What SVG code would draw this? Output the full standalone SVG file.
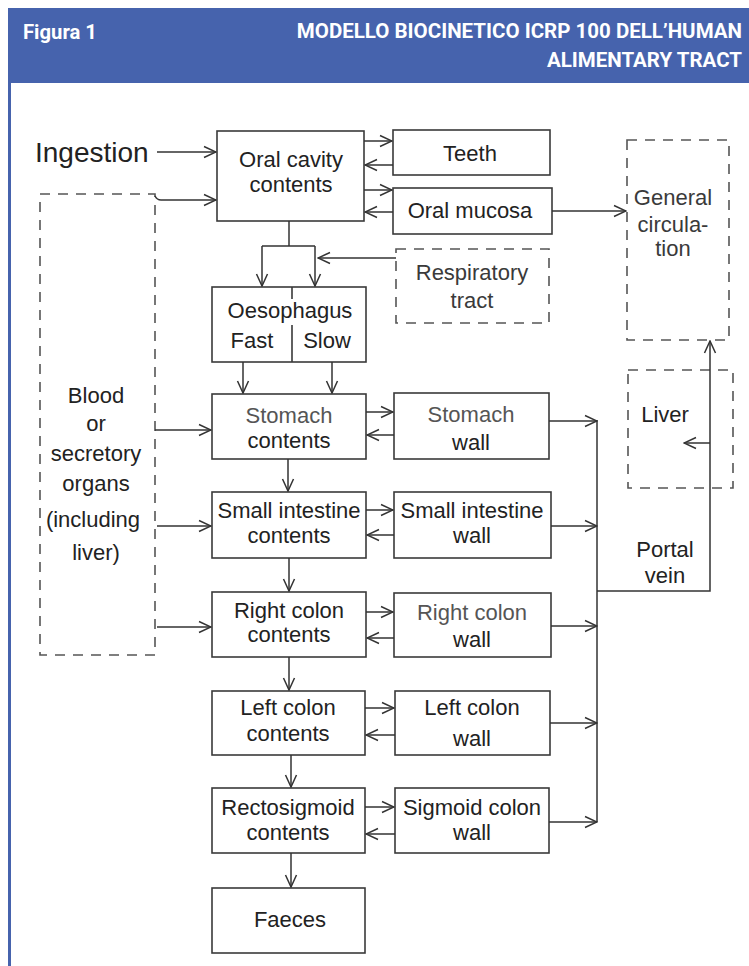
<svg xmlns="http://www.w3.org/2000/svg" width="749" height="966" viewBox="0 0 749 966">
<style>
.bg{fill:#ffffff}
.band{fill:#4663ad}
.hdr{fill:#ffffff;font-family:"Liberation Sans Narrow","Roboto","Open Sans",sans-serif;font-weight:bold}
.box{fill:none;stroke:#3a3a3a;stroke-width:1.6}
.dbox{fill:none;stroke:#555;stroke-width:1.6;stroke-dasharray:10 8}
.t{font-family:"Liberation Sans",Arial,sans-serif;font-size:22px;fill:#222;text-anchor:middle}
.lt{fill:#555}
.mt{fill:#3a3a3a}
.c path{fill:none;stroke:#333;stroke-width:1.5}
</style>
<defs>
<marker id="ah" viewBox="0 0 14 14" markerWidth="14" markerHeight="14" refX="13" refY="7" orient="auto" markerUnits="userSpaceOnUse">
<path d="M1,1.5 L13,7 L1,12.5" fill="none" stroke="#333" stroke-width="1.5"/>
</marker>
</defs>
<rect class="bg" x="0" y="0" width="749" height="966"/>
<g id="header">
<rect class="band" x="8" y="8" width="741" height="75"/>
<rect class="band" x="8" y="83" width="3" height="883"/>
<text class="hdr" x="23" y="39" font-size="21" textLength="74" lengthAdjust="spacingAndGlyphs">Figura 1</text>
<text class="hdr" x="742" y="38" font-size="20.5" text-anchor="end">MODELLO BIOCINETICO ICRP 100 DELL’HUMAN</text>
<text class="hdr" x="742" y="67" font-size="20.5" text-anchor="end">ALIMENTARY TRACT</text>
</g>
<g id="ingestion"><text class="t" x="35" y="162" style="font-size:28px;text-anchor:start">Ingestion</text></g>
<g id="oral-cavity"><rect class="box" x="217" y="131" width="147" height="90"/><text class="t" x="291" y="167">Oral cavity</text><text class="t" x="291" y="192">contents</text></g>
<g id="teeth"><rect class="box" x="393" y="130" width="157" height="45"/><text class="t" x="470" y="161">Teeth</text></g>
<g id="oral-mucosa"><rect class="box" x="393" y="188" width="159" height="46"/><text class="t" x="470" y="218">Oral mucosa</text></g>
<g id="general-circulation"><rect class="dbox" x="627" y="140" width="102" height="200"/><text class="t mt" x="673" y="205">General</text><text class="t mt" x="673" y="232">circula-</text><text class="t mt" x="673" y="256">tion</text></g>
<g id="respiratory-tract"><rect class="dbox" x="396" y="249" width="153" height="74"/><text class="t mt" x="472" y="280">Respiratory</text><text class="t mt" x="472" y="308">tract</text></g>
<g id="oesophagus"><rect class="box" x="212" y="287" width="154" height="75"/><path d="M292,287 V299 M292,325 V362" stroke="#3a3a3a" stroke-width="1.6"/><text class="t" x="290" y="318">Oesophagus</text><text class="t" x="252" y="348">Fast</text><text class="t" x="327" y="348">Slow</text></g>
<g id="blood"><rect class="dbox" x="40" y="194" width="115" height="461"/><text class="t" x="96" y="403">Blood</text><text class="t" x="96" y="431">or</text><text class="t" x="96" y="461">secretory</text><text class="t" x="96" y="491">organs</text><text class="t" x="93" y="527">(including</text><text class="t" x="96" y="560">liver)</text></g>
<g id="stomach-contents"><rect class="box" x="212" y="394" width="154" height="65"/><text class="t lt" x="289" y="423">Stomach</text><text class="t" x="289" y="448">contents</text></g>
<g id="stomach-wall"><rect class="box" x="394" y="393" width="155" height="66"/><text class="t lt" x="471" y="422">Stomach</text><text class="t" x="471" y="450">wall</text></g>
<g id="si-contents"><rect class="box" x="212" y="492" width="154" height="66"/><text class="t" x="289" y="518">Small intestine</text><text class="t" x="289" y="543">contents</text></g>
<g id="si-wall"><rect class="box" x="394" y="492" width="157" height="66"/><text class="t" x="472" y="518">Small intestine</text><text class="t" x="472" y="543">wall</text></g>
<g id="rc-contents"><rect class="box" x="212" y="592" width="154" height="65"/><text class="t" x="289" y="618">Right colon</text><text class="t" x="289" y="642">contents</text></g>
<g id="rc-wall"><rect class="box" x="394" y="593" width="157" height="64"/><text class="t lt" x="472" y="620">Right colon</text><text class="t" x="472" y="647">wall</text></g>
<g id="lc-contents"><rect class="box" x="212" y="691" width="153" height="64"/><text class="t" x="288" y="715">Left colon</text><text class="t" x="288" y="741">contents</text></g>
<g id="lc-wall"><rect class="box" x="395" y="691" width="155" height="64"/><text class="t" x="472" y="715">Left colon</text><text class="t" x="472" y="746">wall</text></g>
<g id="rs-contents"><rect class="box" x="212" y="788" width="153" height="65"/><text class="t" x="288" y="815">Rectosigmoid</text><text class="t" x="288" y="840">contents</text></g>
<g id="sigmoid-wall"><rect class="box" x="395" y="788" width="154" height="65"/><text class="t" x="472" y="815">Sigmoid colon</text><text class="t" x="472" y="840">wall</text></g>
<g id="faeces"><rect class="box" x="212" y="888" width="153" height="65"/><text class="t" x="290" y="927">Faeces</text></g>
<g id="liver"><rect class="dbox" x="628" y="370" width="105" height="118"/><text class="t" x="665" y="422">Liver</text></g>
<g id="portal-vein-label"><text class="t" x="665" y="557">Portal</text><text class="t" x="665" y="583">vein</text></g>
<g id="connectors" class="c">
<path d="M157,152 H216" marker-end="url(#ah)"/>
<path d="M155,196 Q157,200 161,200 H216" marker-end="url(#ah)"/>
<path d="M364,141 H392" marker-end="url(#ah)"/>
<path d="M393,165 H365" marker-end="url(#ah)"/>
<path d="M364,190 H392" marker-end="url(#ah)"/>
<path d="M393,212 H365" marker-end="url(#ah)"/>
<path d="M552,211 H626" marker-end="url(#ah)"/>
<path d="M289,221 V246 M262,246 H315"/>
<path d="M262,246 V286" marker-end="url(#ah)"/>
<path d="M315,246 V286" marker-end="url(#ah)"/>
<path d="M396,258 H318" marker-end="url(#ah)"/>
<path d="M243,362 V393" marker-end="url(#ah)"/>
<path d="M332,362 V393" marker-end="url(#ah)"/>
<path d="M155,430 H211" marker-end="url(#ah)"/>
<path d="M366,412 H393" marker-end="url(#ah)"/>
<path d="M394,435 H367" marker-end="url(#ah)"/>
<path d="M549,421 H597" marker-end="url(#ah)"/>
<path d="M288,459 V491" marker-end="url(#ah)"/>
<path d="M157,526 H211" marker-end="url(#ah)"/>
<path d="M366,510 H393" marker-end="url(#ah)"/>
<path d="M394,535 H367" marker-end="url(#ah)"/>
<path d="M551,526 H597" marker-end="url(#ah)"/>
<path d="M289,558 V591" marker-end="url(#ah)"/>
<path d="M157,627 H211" marker-end="url(#ah)"/>
<path d="M366,612 H393" marker-end="url(#ah)"/>
<path d="M394,638 H367" marker-end="url(#ah)"/>
<path d="M551,626 H597" marker-end="url(#ah)"/>
<path d="M289,657 V690" marker-end="url(#ah)"/>
<path d="M365,708 H394" marker-end="url(#ah)"/>
<path d="M395,735 H366" marker-end="url(#ah)"/>
<path d="M550,723 H597" marker-end="url(#ah)"/>
<path d="M291,755 V787" marker-end="url(#ah)"/>
<path d="M365,807 H394" marker-end="url(#ah)"/>
<path d="M395,834 H366" marker-end="url(#ah)"/>
<path d="M549,822 H597" marker-end="url(#ah)"/>
<path d="M291,853 V887" marker-end="url(#ah)"/>
<path d="M597,420 V822"/>
<path d="M597,591 H710 V341" marker-end="url(#ah)"/>
<path d="M710,443 H684" marker-end="url(#ah)"/>
</g>
</svg>
